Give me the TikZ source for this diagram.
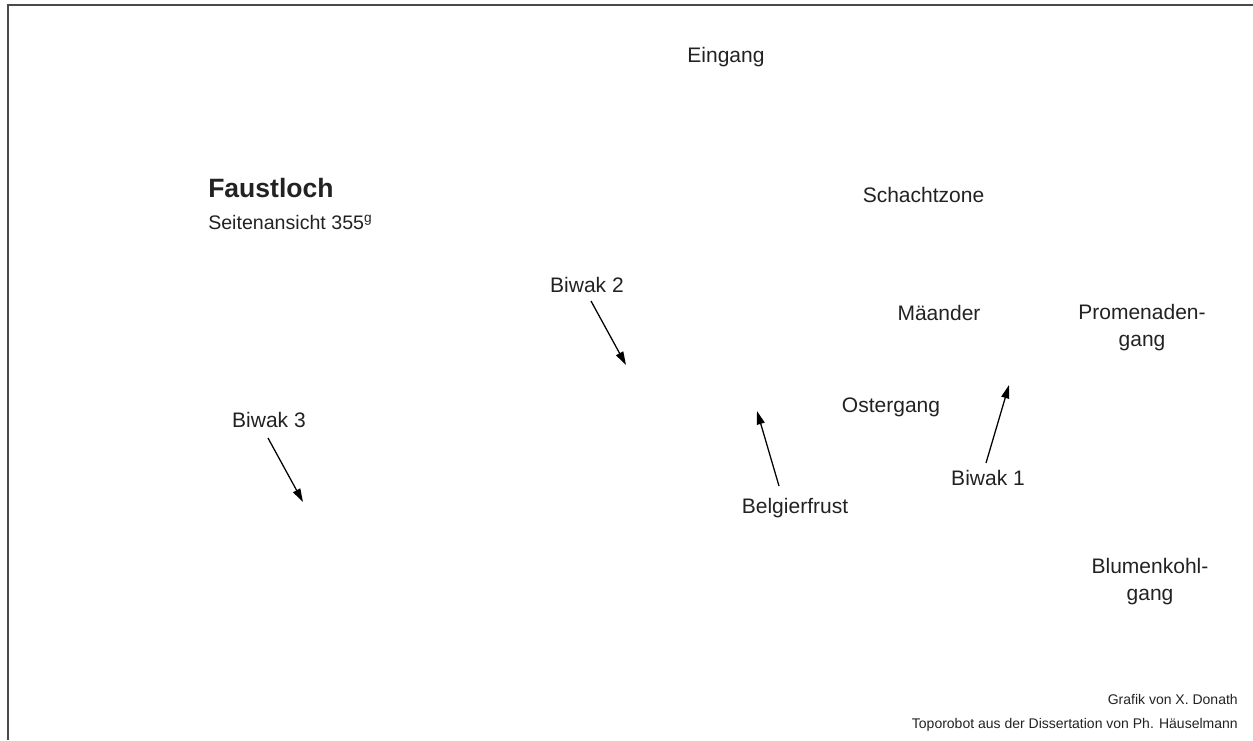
\documentclass[tikz,border=0pt]{standalone}
\usepackage{fontspec}
\setmainfont{Liberation Sans}
\usetikzlibrary{arrows.meta}
\definecolor{txt}{HTML}{222222}
\definecolor{frame}{HTML}{4A4A4A}
\begin{document}
\begin{tikzpicture}[x=0.75pt,y=-0.75pt,
  lbl/.style={inner sep=0pt,anchor=base,text=txt,font=\fontsize{15.75}{20}\selectfont},
  twoline/.style={lbl,align=center,font=\fontsize{15.75}{20.25}\selectfont},
  credit/.style={inner sep=0pt,anchor=base east,text=txt,font=\fontsize{10.5}{13}\selectfont},
  arr/.style={draw=black,line width=0.95pt,-{Triangle[length=10pt,width=6pt]}},
  framelines/.style={draw=frame,line width=1.6pt}]
\useasboundingbox (0,0) rectangle (1253,740);
\coordinate (fr1) at (8,740);
\coordinate (fr2) at (8,5);
\coordinate (fr3) at (1253,5);
\draw[framelines] (fr1) -- (fr2) -- (fr3);

\node[lbl] (eingang) at (726,62) {Eingang};
\node[inner sep=0pt,anchor=base west,text=txt,font=\bfseries\fontsize{19.9}{24}\selectfont] (title) at (208,197) {Faustloch};
\node[inner sep=0pt,anchor=base west,text=txt,font=\fontsize{14.7}{17}\selectfont] (sub) at (208,229) {Seitenansicht 355\textsuperscript{g}};
\node[lbl] (schacht) at (923.5,202) {Schachtzone};
\node[lbl] (biwak2) at (587,292) {Biwak 2};
\node[lbl] (maeander) at (939,320) {Mäander};
\node[twoline,anchor=base] (prom) at (1142,346) {Promenaden-\\gang};
\node[lbl] (oster) at (891,412) {Ostergang};
\node[lbl] (biwak3) at (269,427) {Biwak 3};
\node[lbl] (belg) at (795,513) {Belgierfrust};
\node[lbl] (biwak1) at (988,485) {Biwak 1};
\node[twoline,anchor=base] (blumen) at (1150,600) {Blumenkohl-\\gang};
\node[credit] (cr1) at (1238,704) {Grafik von X. Donath};
\node[credit] (cr2) at (1238,728) {Toporobot aus der Dissertation von Ph. Häuselmann};

\coordinate (b2s) at (591,301);
\coordinate (b2e) at (626,365);
\coordinate (b3s) at (268,438);
\coordinate (b3e) at (303,502);
\coordinate (bgs) at (779,486);
\coordinate (bge) at (757,411);
\coordinate (b1s) at (986,463);
\coordinate (b1e) at (1009,385);
\draw[arr] (b2s) -- (b2e);
\draw[arr] (b3s) -- (b3e);
\draw[arr] (bgs) -- (bge);
\draw[arr] (b1s) -- (b1e);
\end{tikzpicture}
\end{document}
